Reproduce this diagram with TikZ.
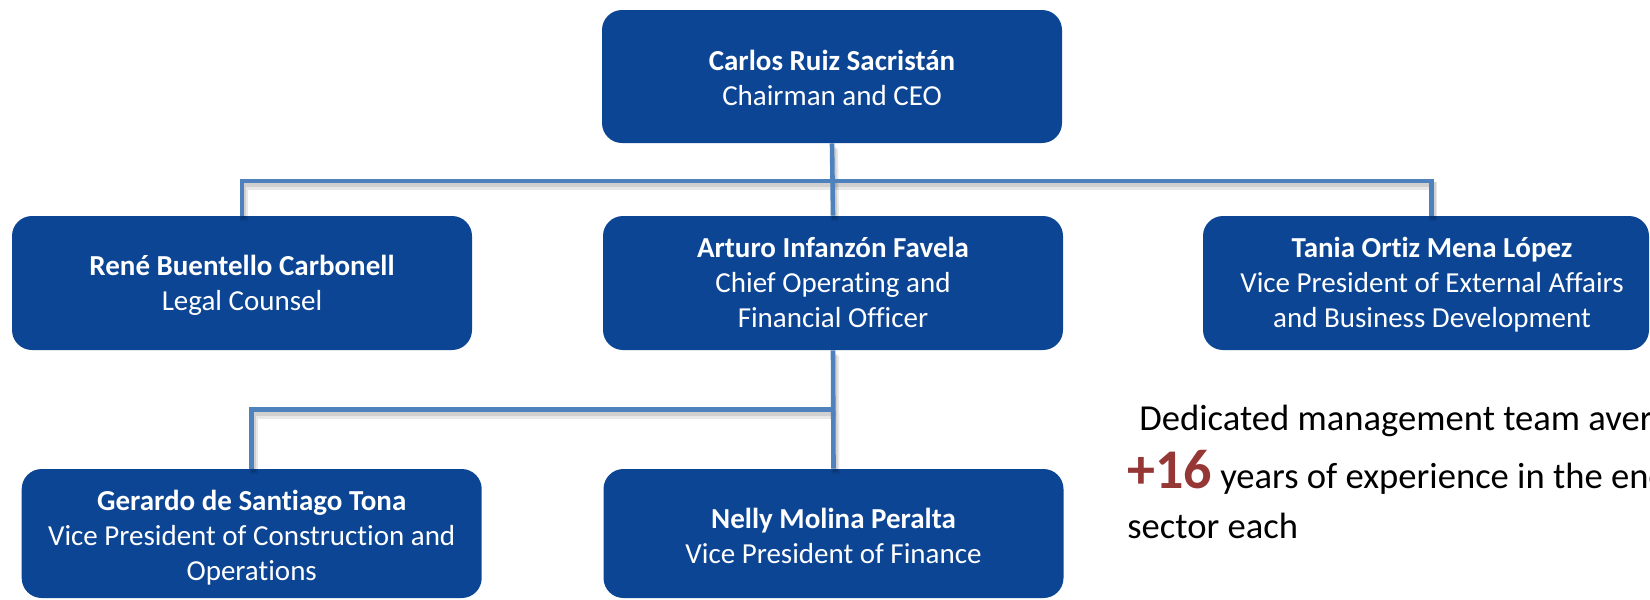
\documentclass[tikz,border=0pt]{standalone}
\usepackage{fontspec}
\setmainfont{Carlito}[Ligatures={NoCommon}]
\definecolor{boxblue}{RGB}{12,69,148}
\definecolor{linkblue}{RGB}{79,129,189}
\definecolor{accentred}{RGB}{149,55,53}
\begin{document}
\begin{tikzpicture}[x=0.5pt,y=-0.5pt,
  orgbox/.style={draw=none, fill=boxblue, rounded corners=10pt, minimum width=230pt, minimum height=67pt, inner sep=0pt},
  boxtext/.style={text=white, align=center, anchor=north, inner sep=0pt, font=\fontsize{14.5pt}{17.5pt}\selectfont},
  note/.style={anchor=base west, inner sep=0pt, text=black, font=\fontsize{18.3pt}{22pt}\selectfont},
  link/.style={draw=linkblue, line width=2.3pt},
  linkshadow/.style={draw=black, opacity=0.09, line width=4pt, transform canvas={shift={(1pt,-2.6pt)}}},
  linkshadowb/.style={draw=black, opacity=0.1, line width=2.6pt, transform canvas={shift={(0.8pt,-1.8pt)}}}]
\useasboundingbox (0,0) rectangle (1650,600);
\clip (0,0) rectangle (1650,600);

% connector anchors
\coordinate (bus1) at (832,181);
\coordinate (bus2) at (834,409.5);

% boxes
\node[orgbox, minimum height=66.5pt] (ceo) at (832,76.5) {};
\node[orgbox] (rene) at (242,283) {};
\node[orgbox] (arturo) at (833,283) {};
\node[orgbox, minimum width=223pt] (tania) at (1426,283) {};
\node[orgbox, minimum height=64.5pt] (gerardo) at (251.7,533.5) {};
\node[orgbox, minimum height=64.5pt] (nelly) at (833.5,533.5) {};

% connector shadows
\foreach \sh in {linkshadow,linkshadowb}{
  \draw[\sh] (rene.north) |- (bus1) -| ([xshift=2.7pt]tania.north);
  \draw[\sh] (ceo.south) -- (arturo.north);
  \draw[\sh] (gerardo.north) |- (bus2);
  \draw[\sh] (arturo.south) -- (nelly.north);
}

% connectors
\draw[link] (rene.north) |- (bus1) -| ([xshift=2.7pt]tania.north);
\draw[link] (ceo.south) -- (arturo.north);
\draw[link] (gerardo.north) |- (bus2);
\draw[link] (arturo.south) -- (nelly.north);

% box texts
\node[boxtext] (ceo-t) at (832,45.5) {\strut\textbf{Carlos Ruiz Sacristán}\\\strut Chairman and CEO};
\node[boxtext] (rene-t) at (242,250.5) {\strut\textbf{René Buentello Carbonell}\\\strut Legal Counsel};
\node[boxtext] (arturo-t) at (833,232.5) {\strut\textbf{Arturo Infanzón Favela}\\\strut Chief Operating and\\\strut Financial Officer};
\node[boxtext] (tania-t) at (1432,233) {\strut\textbf{Tania Ortiz Mena López}\\\strut Vice President of External Affairs\\\strut and Business Development};
\node[boxtext] (gerardo-t) at (251.7,485.5) {\strut\textbf{Gerardo de Santiago Tona}\\\strut Vice President of Construction and\\\strut Operations};
\node[boxtext] (nelly-t) at (833.5,503.5) {\strut\textbf{Nelly Molina Peralta}\\\strut Vice President of Finance};

% side note
\node[note] (note1) at (1127,430) {\hspace{6pt}Dedicated management team averages};
\node[note] (note2) at (1127,488) {{\fontsize{28pt}{30pt}\selectfont\bfseries\color{accentred}+16} years of experience in the energy};
\node[note] (note3) at (1127,538) {sector each};
\end{tikzpicture}
\end{document}
